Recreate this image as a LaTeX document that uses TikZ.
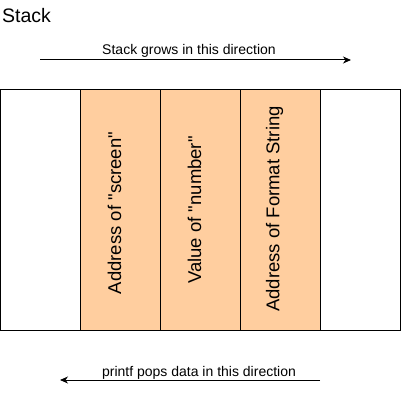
\documentclass[tikz,border=0pt]{standalone}
\usepackage{fontspec}
\setmainfont{Liberation Sans}
\usetikzlibrary{positioning,arrows.meta,calc}
\definecolor{slotfill}{RGB}{255,206,159}

\begin{document}
\begin{tikzpicture}[x=1pt,y=-1pt,
  cell/.style={draw,line width=1pt,minimum width=80pt,minimum height=240pt,inner sep=0pt,outer sep=0pt},
  slot/.style={cell,fill=slotfill},
  slottext/.style={rotate=90,inner sep=0pt,font=\fontsize{18.5}{20}\selectfont},
  caption/.style={inner sep=0pt,anchor=base,font=\fontsize{14}{16}\selectfont},
  flow/.style={line width=1pt,-{Stealth[length=8pt,width=7pt,inset=2.5pt]}}]
  \useasboundingbox (0,0) rectangle (401,401);
  \node[anchor=base west,inner sep=0pt,font=\fontsize{19.5}{22}\selectfont] (title) at (2,23) {Stack};
  % stack frame
  \node[cell,anchor=north west] (empty1) at (0.5,90) {};
  \node[slot,right=0pt of empty1] (screen) {};
  \node[slot,right=0pt of screen] (number) {};
  \node[slot,right=0pt of number] (format) {};
  \node[cell,right=0pt of format] (empty2) {};
  \node[slottext] (screentext) at ($(screen)+(-6,3)$) {Address of \textquotedbl screen\textquotedbl};
  \node[slottext] (numbertext) at ($(number)+(-6,0)$) {Value of \textquotedbl number\textquotedbl};
  \node[slottext] (formattext) at ($(format)+(-6,-1)$) {Address of Format String};
  % directions
  \coordinate (growstart) at (40,60);
  \coordinate (growend) at (351,60);
  \draw[flow] (growstart) -- (growend);
  \node[caption] (growtext) at (189,55) {Stack grows in this direction};
  \coordinate (popstart) at (320,380);
  \coordinate (popend) at (60,380);
  \draw[flow] (popstart) -- (popend);
  \node[caption] (poptext) at (199,376) {printf pops data in this direction};
\end{tikzpicture}
\end{document}
